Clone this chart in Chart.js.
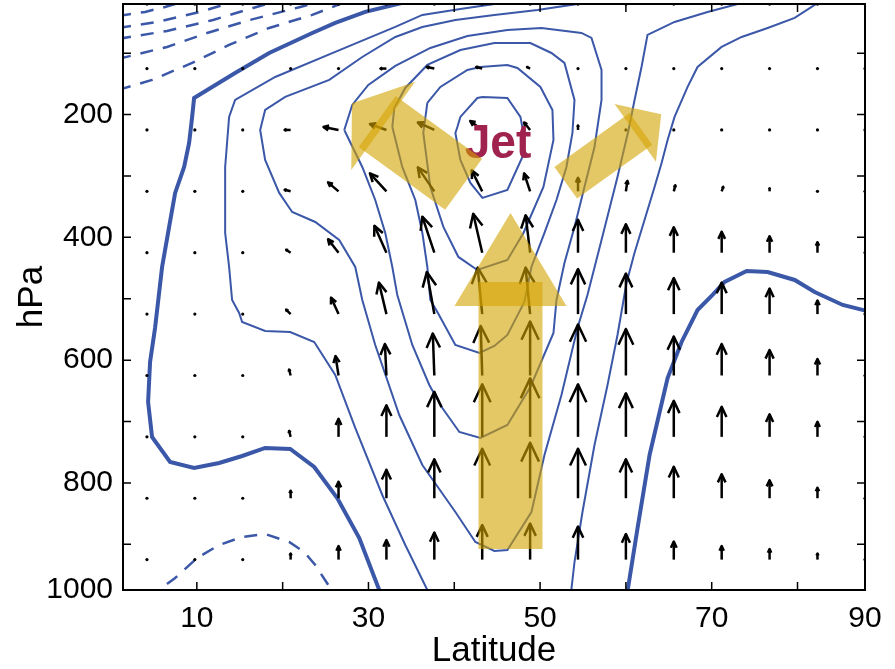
<!DOCTYPE html>
<html>
<head>
<meta charset="utf-8">
<script src="https://cdn.jsdelivr.net/npm/chart.js@4.4.1/dist/chart.umd.min.js"></script>
<style>
  html, body { margin: 0; padding: 0; background: #fff; }
  canvas { display: block; }
</style>
</head>
<body>
<canvas id="chart" width="895" height="669"></canvas>
<script>
// axis extent: model latitudes and levels
const latMin = 1.395, latMax = 87.864;
const presTop = 19.8, presBottom = 974.5;

// tick marks; the frame edges carry the end labels
const latTicks = [10, 20, 30, 40, 50, 60, 70, 80, latMax];
const latLabels = ['10', '', '30', '', '50', '', '70', '', '90'];
const presTicks = [100, 200, 300, 400, 500, 600, 700, 800, 900, presBottom];
const presLabels = ['', '200', '', '400', '', '600', '', '800', '', '1000'];

// zonal wind contours, [latitude, hPa]
const zeroLeft = [[36.3,9.9],[29.63,32.7],[26.13,50.7],[23.45,67.0],[18.43,99.6],[14.46,132.1],[11.78,154.9],[9.68,172.9],[9.45,203.8],[9.10,246.2],[8.52,285.3],[7.47,327.6],[6.77,383.0],[5.95,448.2],[5.13,547.6],[4.55,603.0],[4.32,668.2],[4.78,725.2],[6.88,765.9],[9.68,775.7],[12.60,767.6],[15.28,756.2],[17.96,743.1],[20.88,744.8],[23.68,774.1],[26.36,824.6],[28.93,889.8],[31.26,974.5],[31.5,987]];
const zeroRight = [[60.07,987],[61.36,873.5],[62.76,754.5],[64.86,629.1],[66.49,570.4],[68.35,518.3],[70.10,493.8],[71.50,472.7],[74.07,454.7],[76.52,456.4],[79.67,469.4],[82.0,489.0],[85.27,510.1],[88.07,519.9],[88.6,521]];
const c1Left = [[47.13,9.9],[44.67,19.7],[40.71,27.9],[36.28,37.6],[33.13,57.2],[26.13,97.9],[19.13,138.7],[14.46,176.1],[13.76,203.8],[13.30,285.3],[13.30,392.8],[13.76,448.2],[14.11,502.0],[14.93,523.2],[15.28,537.8],[17.96,552.5],[20.88,554.1],[23.68,570.4],[26.13,624.2],[28.46,710.5],[31.61,819.7],[34.29,901.2],[36.86,974.5],[37.21,987]];
const c1Right = [[82.94,9.9],[82.35,18.1],[79.67,42.5],[76.52,58.8],[73.49,73.5],[71.15,89.8],[68.35,122.4],[67.19,154.9],[65.67,203.8],[64.86,241.3],[64.16,278.8],[63.34,317.9],[62.17,371.6],[61.0,425.4],[60.07,474.3],[59.02,559.0],[57.86,640.5],[56.34,738.2],[54.94,847.4],[54.01,928.9],[53.54,987]];
const c2 = [[55.87,9.9],[54.36,19.7],[49.69,29.5],[44.67,37.6],[40.13,45.8],[36.28,57.2],[33.13,73.5],[29.28,106.1],[25.43,143.5],[20.30,171.2],[17.96,192.4],[17.38,225.0],[17.96,273.9],[19.60,327.6],[21.11,358.6],[23.80,374.9],[26.59,404.2],[28.46,448.2],[29.28,502.0],[30.79,575.3],[33.59,689.4],[36.28,770.8],[40.13,847.4],[42.46,896.3],[44.67,910.9],[46.19,909.3],[48.99,847.4],[50.51,754.5],[52.49,656.8],[54.36,547.6],[55.52,493.8],[57.16,404.2],[59.02,301.6],[60.31,225.0],[61.01,176.1],[61.82,122.4],[62.52,70.2],[65.67,49.0],[69.52,32.7],[73.49,18.1],[74.54,9.9]];
const c3 = [[27.18,225.0],[29.28,285.3],[30.79,339.1],[31.96,392.8],[32.78,448.2],[33.36,493.8],[35.11,575.3],[37.09,640.5],[38.61,678.0],[40.59,717.1],[43.04,726.8],[46.19,705.7],[48.87,643.7],[51.56,555.8],[51.91,502.0],[52.84,441.7],[54.01,383.0],[55.17,317.9],[56.34,252.7],[57.16,176.1],[57.16,127.2],[55.99,75.1],[54.82,67.0],[50.16,58.8],[46.19,62.1],[41.53,71.9],[37.21,91.4],[33.13,120.7],[29.98,151.7],[28.11,184.3],[27.18,225.0]];
const c4 = [[32.78,220.1],[33.94,285.3],[35.46,339.1],[36.28,392.8],[36.86,448.2],[37.21,502.0],[38.03,521.5],[40.13,575.3],[42.93,588.3],[44.67,576.9],[46.19,559.0],[48.17,505.2],[48.99,448.2],[50.51,392.8],[51.91,339.1],[53.07,285.3],[53.77,229.9],[54.01,176.1],[52.84,115.8],[51.32,99.6],[48.87,83.3],[44.67,83.3],[40.71,94.7],[36.86,119.1],[34.29,156.6],[33.01,189.2],[32.78,220.1]];
const c5 = [[36.86,181.0],[38.38,154.9],[41.53,127.2],[43.04,122.4],[46.19,119.1],[47.36,124.0],[50.04,154.9],[51.44,192.4],[51.56,241.3],[50.39,317.9],[48.06,392.8],[46.19,436.8],[42.69,453.1],[40.48,431.9],[38.73,383.0],[37.21,317.9],[36.39,229.9],[36.86,181.0]];
const c6 = [[40.36,220.1],[40.71,203.8],[42.69,172.9],[43.28,171.2],[46.19,172.9],[47.71,203.8],[48.06,229.9],[47.94,269.0],[46.19,322.8],[43.28,335.8],[41.88,311.4],[40.71,273.9],[40.13,229.9],[40.36,220.1]];
const neg1 = [[0.82,39.3],[3.97,32.7],[6.30,24.6],[9.45,11.6]];
const neg2 = [[0.82,58.8],[5.37,49.0],[10.38,32.7],[14.23,16.5]];
const neg3 = [[0.82,76.7],[6.53,63.7],[11.90,45.8],[16.56,26.2],[19.71,13.2]];
const neg4 = [[0.82,109.3],[6.53,89.8],[11.20,67.0],[16.21,45.8],[22.05,24.6],[24.96,13.2]];
const neg5 = [[0.82,159.8],[4.78,143.5],[9.45,115.8],[13.76,86.5],[18.43,58.8],[23.45,37.6],[27.30,16.5]];
const negLow = [[4.36,987],[7.47,954.9],[10.03,922.3],[12.60,901.2],[15.28,888.1],[17.96,883.2],[20.76,896.3],[22.51,912.6],[23.80,933.8],[25.55,971.2],[25.90,987]];

// mean meridional circulation: grid and (v, w) components
const arrowLats = [4.186, 9.767, 15.349, 20.930, 26.512, 32.093, 37.674, 43.256, 48.837, 54.419, 60.000, 65.581, 71.163, 76.744, 82.325, 87.864];
const arrowLevels = [20, 125, 225, 325, 425, 525, 625, 725, 825, 925];
const vArrow = [
  [0,0,0,0,0,0,0,0,0,0,0,0,0,0,0,0],
  [0,0,0,0,0,-2,-2.5,-2,-1,0,0,0,0,0,0,0],
  [0,0,0,-2,-5,-5.5,-5.5,-4,-2,0,0,0,0,0,0,0],
  [0,0,0,-2,-3.5,-5.5,-5.5,-3.5,-2,0,0.5,0.5,0.5,0,0,0],
  [0,0,0,-1.5,-3.5,-4,-4,-3,-1.5,0,0,0,0,0,0,0],
  [0,0,0,-1.5,-2.5,-2.5,-2.5,-1.5,-1.5,0,0,0,0,0,0,0],
  [0,0,0,-0.5,-1,-0.5,-0.5,-0.5,0,0,0,0,0,0,0,0],
  [0,0,0,-0.5,0,0,0,0,0,0,0,0,0,0,0,0],
  [0,0,0,0,0,0,0,0,0,0,0,0,0,0,0,0],
  [0,0,0,0,0,0,0,0,0,0,0,0,0,0,0,0]
];
const wArrow = [
  [0,0,0,0,0,0,0,0,0,0,0,0,0,0,0,0],
  [0,0,0,0,0,0,0.5,0.5,0.5,0,0,0,0,0,0,0],
  [0,0,0,0,1,2,2.5,3,2.5,1.5,0.5,0,0,0,0,0],
  [0,0,0,0.5,3,6,8,7,6,4.5,3.5,2,1.5,1,0,0],
  [0,0,0,1,4.5,9,12,13,12.5,11,9.5,8.5,7,5.5,3.5,0],
  [0,0,0,1.5,5.5,10.5,14,15.5,15.5,15,13.5,12,10.5,8.5,4.5,0],
  [0,0,0,2,6.5,10.5,14,16.5,18,17,15.5,13,10.5,8.5,5.5,0],
  [0,0,0,2,6,10.5,15,17.5,19.5,17.5,14.5,12,10,7.5,5,0],
  [0,0,0,2.5,5.5,9.5,13,16.5,18.5,16.5,13,10.5,8,6,3.5,0],
  [0,0,0,2,4.5,6.5,9,11.5,12,11,8.5,6,4.5,3.5,2,0]
];
const arrowScale = 3; // px per unit

// schematic flow arrows: tail and tip as [latitude, hPa]
const flows = [
  { from: [46.55, 907.7], to: [46.55, 360.2], shaft: 64, headWidth: 112, headLength: 93, overlap: 24 },
  { from: [41.09, 313.3], to: [28.08, 181.5], shaft: 63, headWidth: 109, headLength: 38.6, overlap: 7.5 },
  { from: [52.99, 311.0], to: [64.12, 199.4], shaft: 39, headWidth: 71, headLength: 32, overlap: 7 }
];
const jetLabel = { text: 'Jet', at: [45.1, 270.6] };

const blue = '#3b57a8';
const font = '"Liberation Sans", Arial, Helvetica, sans-serif';

function contour(data, width, dash) {
  return {
    data, showLine: true, pointRadius: 0, borderColor: blue, borderWidth: width,
    borderDash: dash || [], tension: 0, fill: false, clip: 0
  };
}

const datasets = [
  contour(zeroLeft, 4), contour(zeroRight, 4),
  contour(c1Left, 2), contour(c1Right, 2), contour(c2, 2), contour(c3, 2),
  contour(c4, 2), contour(c5, 2), contour(c6, 2),
  contour(neg1, 2.5, [13, 10]), contour(neg2, 2.5, [13, 10]), contour(neg3, 2.5, [13, 10]),
  contour(neg4, 2.5, [13, 10]), contour(neg5, 2.5, [13, 10]), contour(negLow, 2.5, [13, 10])
];

function drawFlow(ctx, x, y, f) {
  const x0 = x.getPixelForValue(f.from[0]), y0 = y.getPixelForValue(f.from[1]);
  const x1 = x.getPixelForValue(f.to[0]), y1 = y.getPixelForValue(f.to[1]);
  const len = Math.hypot(x1 - x0, y1 - y0);
  const ux = (x1 - x0) / len, uy = (y1 - y0) / len;
  const px = -uy, py = ux;
  const bx = x1 - ux * f.headLength, by = y1 - uy * f.headLength;
  const sx = bx + ux * f.overlap, sy = by + uy * f.overlap;
  const hw = f.shaft / 2, hh = f.headWidth / 2;
  ctx.beginPath();
  ctx.moveTo(x0 + px * hw, y0 + py * hw);
  ctx.lineTo(sx + px * hw, sy + py * hw);
  ctx.lineTo(sx - px * hw, sy - py * hw);
  ctx.lineTo(x0 - px * hw, y0 - py * hw);
  ctx.closePath();
  ctx.fill();
  ctx.beginPath();
  ctx.moveTo(bx + px * hh, by + py * hh);
  ctx.lineTo(x1, y1);
  ctx.lineTo(bx - px * hh, by - py * hh);
  ctx.closePath();
  ctx.fill();
}

const overlay = {
  id: 'overlay',
  afterDatasetsDraw(chart) {
    const { ctx, chartArea: a, scales: { x, y } } = chart;
    ctx.save();
    ctx.beginPath();
    ctx.rect(a.left, a.top, a.right - a.left, a.bottom - a.top);
    ctx.clip();

    // quiver
    ctx.strokeStyle = '#000';
    ctx.fillStyle = '#000';
    ctx.lineWidth = 2.5;
    ctx.lineJoin = 'round';
    arrowLevels.forEach((p, j) => {
      arrowLats.forEach((lat, k) => {
        const x0 = x.getPixelForValue(lat), y0 = y.getPixelForValue(p);
        const dx = vArrow[j][k] * arrowScale, dy = -wArrow[j][k] * arrowScale;
        const len = Math.hypot(dx, dy);
        if (len < 2) {
          ctx.beginPath();
          ctx.arc(x0, y0, 1.6, 0, Math.PI * 2);
          ctx.fill();
          return;
        }
        const ux = dx / len, uy = dy / len;
        const tx = x0 + dx, ty = y0 + dy;
        const back = 0.34 * len, side = 0.16 * len;
        ctx.beginPath();
        ctx.moveTo(x0, y0);
        ctx.lineTo(tx, ty);
        ctx.stroke();
        ctx.beginPath();
        ctx.moveTo(tx - ux * back - uy * side, ty - uy * back + ux * side);
        ctx.lineTo(tx, ty);
        ctx.lineTo(tx - ux * back + uy * side, ty - uy * back - ux * side);
        ctx.stroke();
      });
    });

    // label
    const jx = x.getPixelForValue(jetLabel.at[0]), jy = y.getPixelForValue(jetLabel.at[1]);
    ctx.save();
    ctx.translate(jx, jy);
    ctx.scale(0.94, 1);
    ctx.font = 'bold 49px ' + font;
    ctx.fillStyle = '#a0234f';
    ctx.textAlign = 'center';
    ctx.textBaseline = 'alphabetic';
    ctx.fillText(jetLabel.text, 0, 0);
    ctx.restore();

    // flow arrows
    ctx.fillStyle = 'rgba(212, 163, 0, 0.6)';
    flows.forEach(f => drawFlow(ctx, x, y, f));
    ctx.restore();
  },
  afterDraw(chart) {
    const { ctx, chartArea: a, scales: { x, y } } = chart;
    ctx.save();
    ctx.strokeStyle = '#000';
    ctx.lineWidth = 1.5;
    ctx.beginPath();
    latTicks.slice(0, -1).forEach(v => {
      const px = x.getPixelForValue(v);
      ctx.moveTo(px, a.bottom); ctx.lineTo(px, a.bottom - 8);
      ctx.moveTo(px, a.top); ctx.lineTo(px, a.top + 8);
    });
    presTicks.slice(0, -1).forEach(v => {
      const py = y.getPixelForValue(v);
      ctx.moveTo(a.left, py); ctx.lineTo(a.left + 8, py);
      ctx.moveTo(a.right, py); ctx.lineTo(a.right - 8, py);
    });
    ctx.stroke();
    ctx.lineWidth = 2;
    ctx.strokeRect(a.left, a.top, a.right - a.left, a.bottom - a.top);
    ctx.restore();
  }
};

new Chart(document.getElementById('chart'), {
  type: 'scatter',
  data: { datasets },
  options: {
    responsive: false,
    animation: false,
    devicePixelRatio: 1,
    layout: { padding: { left: 0, right: 30, top: 4, bottom: 0 } },
    plugins: { legend: { display: false }, tooltip: { enabled: false } },
    scales: {
      x: {
        type: 'linear', position: 'bottom', min: latMin, max: latMax,
        afterBuildTicks: s => { s.ticks = latTicks.map(v => ({ value: v })); },
        afterFit: s => { s.height = 79; s.paddingLeft = 0; s.paddingRight = 0; },
        grid: { display: false, drawTicks: false },
        border: { display: false },
        ticks: {
          autoSkip: false, maxRotation: 0, padding: 11, color: '#000',
          font: { family: font, size: 30 },
          callback: (v, i) => latLabels[i]
        },
        title: {
          display: true, text: 'Latitude', color: '#000',
          font: { family: font, size: 35, lineHeight: 1 }, padding: 0
        }
      },
      y: {
        type: 'linear', position: 'left', reverse: true, min: presTop, max: presBottom,
        afterBuildTicks: s => { s.ticks = presTicks.map(v => ({ value: v })); },
        afterFit: s => { s.width = 123; s.paddingTop = 0; s.paddingBottom = 0; },
        grid: { display: false, drawTicks: false },
        border: { display: false },
        ticks: {
          autoSkip: false, padding: 10, color: '#000',
          font: { family: font, size: 30 },
          callback: (v, i) => presLabels[i]
        },
        title: {
          display: true, text: 'hPa', color: '#000',
          font: { family: font, size: 35, lineHeight: 1 }, padding: { top: 15 }
        }
      }
    }
  },
  plugins: [overlay]
});
</script>
</body>
</html>
